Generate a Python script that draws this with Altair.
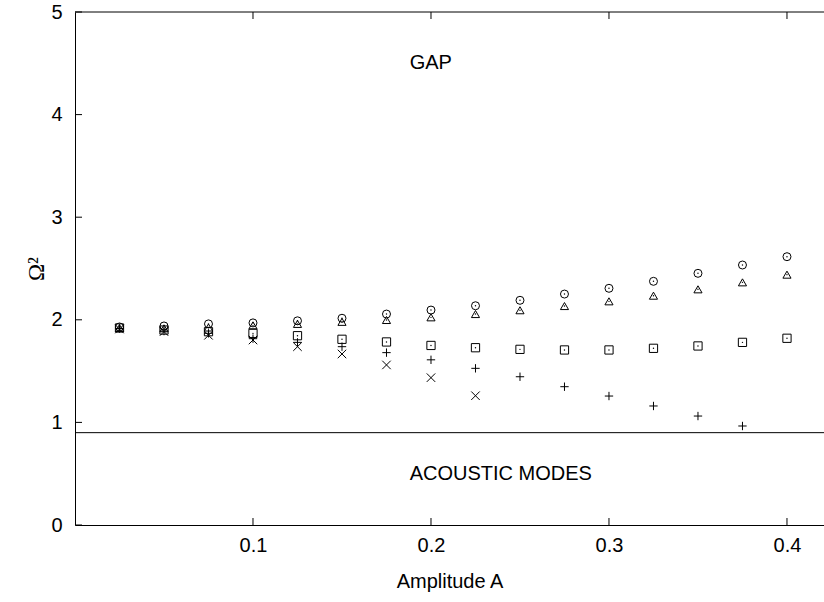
import altair as alt
import pandas as pd

# ---- data ----
amp = [0.025, 0.05, 0.075, 0.1, 0.125, 0.15, 0.175, 0.2, 0.225, 0.25,
       0.275, 0.3, 0.325, 0.35, 0.375, 0.4]
circle_vals = [1.93, 1.94, 1.96, 1.97, 1.99, 2.015, 2.056, 2.095, 2.137, 2.19,
               2.251, 2.307, 2.375, 2.453, 2.534, 2.615]
triangle_vals = [1.92, 1.917, 1.925, 1.946, 1.96, 1.98, 1.998, 2.024, 2.056, 2.093,
                 2.134, 2.18, 2.235, 2.297, 2.365, 2.44]
square_vals = [1.92, 1.90, 1.884, 1.868, 1.845, 1.81, 1.784, 1.75, 1.728, 1.712,
               1.706, 1.706, 1.722, 1.745, 1.78, 1.82]
plus_vals = [1.915, 1.89, 1.868, 1.816, 1.78, 1.738, 1.68, 1.61, 1.527, 1.445,
             1.348, 1.257, 1.16, 1.062, 0.965]
cross_vals = [1.91, 1.885, 1.849, 1.803, 1.738, 1.667, 1.56, 1.436, 1.26]

acoustic_limit = [0.9]
x_ticks = [0.1, 0.2, 0.3, 0.4]
y_ticks = [0, 1, 2, 3, 4, 5]
label_texts = ["GAP", "ACOUSTIC MODES"]
label_x = [0.188, 0.188]
label_y = [4.5, 0.5]

series_names = ["circle", "triangle", "square", "plus", "cross"]
series_shapes = ["circle", "triangle-up", "square",
                 "M-1,0L1,0M0,-1L0,1", "M-1,-1L1,1M-1,1L1,-1"]

rows = []
for name, vals in zip(series_names,
                      [circle_vals, triangle_vals, square_vals, plus_vals, cross_vals]):
    for a, v in zip(amp, vals):
        rows.append({"A": a, "omega2": v, "series": name})
df = pd.DataFrame(rows)

W, H = 749, 513
FONT = "Liberation Sans"

xscale = alt.Scale(domain=[0, 0.4208], nice=False, zero=False)
yscale = alt.Scale(domain=[0, 5], nice=False)

xaxis = alt.Axis(values=x_ticks, format=".1f", ticks=False, tickSize=0,
                 labelPadding=10, labelFont=FONT, labelFontSize=20,
                 title="Amplitude A", titleFont=FONT, titleFontSize=20,
                 titleFontWeight="normal", titlePadding=16, grid=False,
                 domainColor="black", domainWidth=1)
yaxis = alt.Axis(values=y_ticks, format="d", ticks=False, tickSize=0,
                 labelPadding=13, labelFont=FONT, labelFontSize=20,
                 title="Ω²", titleFont="Liberation Serif", titleFontSize=23,
                 titleFontWeight="normal", titlePadding=2, grid=False,
                 domainColor="black", domainWidth=1)

points = alt.Chart(df).mark_point(filled=False, strokeWidth=1, color="black",
                                  opacity=1).encode(
    x=alt.X("A:Q", scale=xscale, axis=xaxis),
    y=alt.Y("omega2:Q", scale=yscale, axis=yaxis),
    shape=alt.Shape("series:N", scale=alt.Scale(domain=series_names,
                                                range=series_shapes), legend=None),
    size=alt.Size("series:N", scale=alt.Scale(domain=series_names,
                                              range=[64, 72, 60, 81, 56]), legend=None),
)

dots = alt.Chart(df).transform_filter(
    alt.FieldOneOfPredicate(field="series", oneOf=["circle", "triangle", "square"])
).mark_circle(size=2, color="black", opacity=1).encode(
    x=alt.X("A:Q", scale=xscale),
    y=alt.Y("omega2:Q", scale=yscale),
)

hline = alt.Chart(pd.DataFrame({"y": acoustic_limit})).mark_rule(
    color="black", strokeWidth=1).encode(y=alt.Y("y:Q", scale=yscale))

labels = alt.Chart(pd.DataFrame({"x": label_x, "y": label_y, "t": label_texts})).mark_text(
    align="left", baseline="middle", font=FONT, fontSize=20, color="black").encode(
    x=alt.X("x:Q", scale=xscale), y=alt.Y("y:Q", scale=yscale), text="t:N")

xt = pd.DataFrame({"x": x_ticks})
yt = pd.DataFrame({"y": y_ticks})
tick_bottom = alt.Chart(xt).mark_rule(color="black", strokeWidth=1).encode(
    x=alt.X("x:Q", scale=xscale), y=alt.value(H - 7), y2=alt.value(H))
tick_top = alt.Chart(xt).mark_rule(color="black", strokeWidth=1).encode(
    x=alt.X("x:Q", scale=xscale), y=alt.value(0), y2=alt.value(7))
tick_left = alt.Chart(yt).mark_rule(color="black", strokeWidth=1).encode(
    y=alt.Y("y:Q", scale=yscale), x=alt.value(0), x2=alt.value(7))
top_border = alt.Chart(pd.DataFrame({"y": [5]})).mark_rule(
    color="black", strokeWidth=1).encode(y=alt.Y("y:Q", scale=yscale))

chart = alt.layer(points, dots, hline, labels, tick_bottom, tick_top, tick_left,
                  top_border).properties(
    width=W, height=H,
    autosize=alt.AutoSizeParams(type="none"),
    padding={"left": 75, "top": 12, "right": 0, "bottom": 77},
    background="white",
).configure_view(strokeWidth=0)

chart.save("out.html", embed_options={"renderer": "svg", "actions": False})
